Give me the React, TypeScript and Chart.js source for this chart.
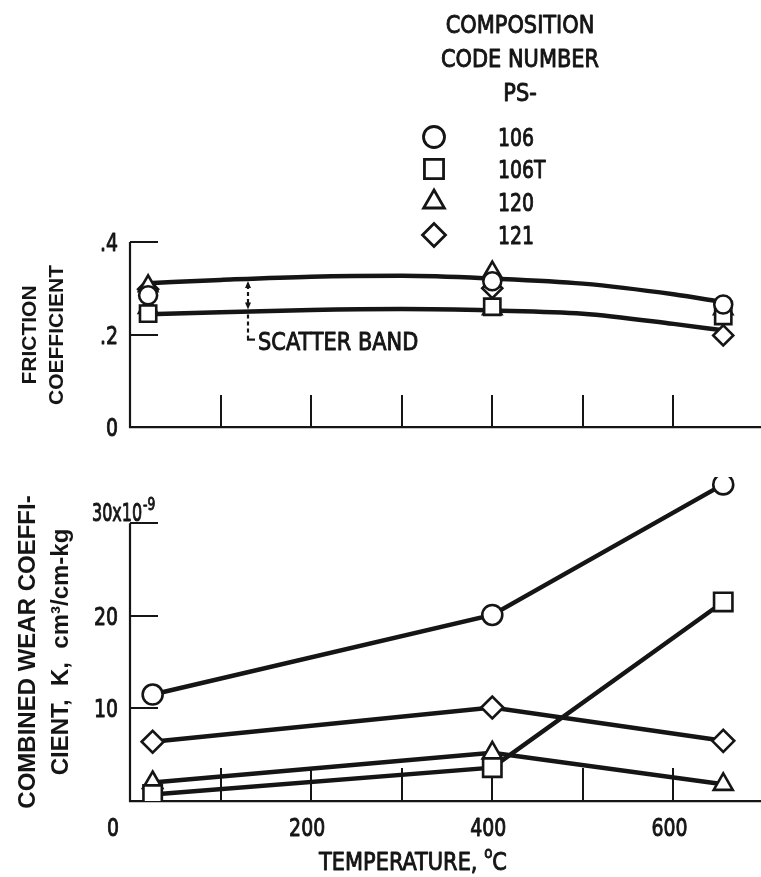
import React, { useEffect, useRef } from 'react';
import { Chart, registerables } from 'chart.js';
import { drawPoint } from 'chart.js/helpers';

Chart.register(...registerables);

const COND = "'DejaVu Sans Condensed', 'Liberation Sans Narrow', sans-serif";
const SANS = "'Liberation Sans', Arial, sans-serif";
const INK = '#151515';
const TXT_SX = 0.93;
const NUM_SX = 0.84;

// ---------- shared axis data ----------
const tempMin = 0;
const tempMax = 700;
const tempTickValues = [0, 100, 200, 300, 400, 500, 600, 700];
const tempLabelValues = [0, 200, 400, 600];

// ---------- legend ----------
const legendTitle = ['COMPOSITION', 'CODE NUMBER', 'PS-'];
const seriesLabels = ['106', '106T', '120', '121'];
const seriesStyles = ['circle', 'rect', 'triangle', 'rectRot'];

// ---------- friction coefficient (top) ----------
const frictionTickValues = [0, 0.2, 0.4];
const frictionTickLabels = ['0', '.2', '.4'];
const fr106X = [20, 400, 655];
const fr106Y = [0.285, 0.315, 0.265];
const fr106TX = [20, 400, 655];
const fr106TY = [0.245, 0.26, 0.24];
const fr120X = [20, 20, 400, 400, 655];
const fr120Y = [0.305, 0.258, 0.335, 0.255, 0.255];
const fr121X = [20, 400, 655];
const fr121Y = [0.298, 0.3, 0.198];
const bandX = [20, 100, 200, 300, 400, 500, 600, 655];
const bandUpper = [0.311, 0.318, 0.325, 0.327, 0.321, 0.31, 0.287, 0.27];
const bandLower = [0.244, 0.248, 0.253, 0.255, 0.252, 0.245, 0.223, 0.209];
const scatterBandTemp = 130;
const scatterBandText = 'SCATTER BAND';

// ---------- wear coefficient (bottom) ----------
const wearTemps = [25, 400, 655];
const wear106 = [11.5, 20.1, 34.2];
const wear106T = [0.7, 3.6, 21.5];
const wear120 = [2.0, 5.2, 1.8];
const wear121 = [6.4, 10.1, 6.5];
const wearTickValues = [0, 10, 20, 30];
const wearTickLabels = ['', '10', '20', '30x10'];
const wearExponent = '-9';
const wearAxisMax = 35;

const frictionTitle = ['FRICTION', 'COEFFICIENT'];
const wearTitle = ['COMBINED WEAR COEFFI-', 'CIENT,  K,  cm\u00B3/cm-kg'];
const tempTitle = 'TEMPERATURE, ';
const tempUnitSup = 'o';
const tempUnit = 'C';

function interp(xs: number[], ys: number[], x: number) {
  for (let i = 0; i < xs.length - 1; i++) {
    if (x >= xs[i] && x <= xs[i + 1]) {
      const t = (x - xs[i]) / (xs[i + 1] - xs[i]);
      return ys[i] + t * (ys[i + 1] - ys[i]);
    }
  }
  return ys[ys.length - 1];
}

function line(ctx: CanvasRenderingContext2D, x1: number, y1: number, x2: number, y2: number) {
  ctx.beginPath();
  ctx.moveTo(x1, y1);
  ctx.lineTo(x2, y2);
  ctx.stroke();
}

// draws condensed text (slightly emboldened); returns drawn width
function text(
  ctx: CanvasRenderingContext2D,
  s: string,
  x: number,
  y: number,
  size: number,
  align: CanvasTextAlign = 'left',
  sx: number = TXT_SX,
) {
  ctx.save();
  ctx.fillStyle = INK;
  ctx.strokeStyle = INK;
  ctx.lineWidth = 0.9;
  ctx.lineJoin = 'round';
  ctx.font = `${size}px ${COND}`;
  ctx.textAlign = align;
  ctx.textBaseline = 'alphabetic';
  ctx.translate(x, y);
  ctx.scale(sx, 1);
  ctx.fillText(s, 0, 0);
  ctx.strokeText(s, 0, 0);
  const w = ctx.measureText(s).width * sx;
  ctx.restore();
  return w;
}

function measure(ctx: CanvasRenderingContext2D, s: string, size: number, sx: number) {
  ctx.save();
  ctx.font = `${size}px ${COND}`;
  const w = ctx.measureText(s).width * sx;
  ctx.restore();
  return w;
}

function drawAxesAndTicks(chart: any, yTop: number, xTickLen: number, yTickLen: number) {
  const { ctx, chartArea } = chart;
  const xs = chart.scales.x;
  const ys = chart.scales.y;
  ctx.save();
  ctx.strokeStyle = INK;
  ctx.lineWidth = 2.2;
  ctx.lineCap = 'butt';
  const left = Math.round(chartArea.left);
  line(ctx, left, ys.getPixelForValue(0) + 1, left, ys.getPixelForValue(yTop));
  ctx.lineWidth = 2;
  xs.ticks.forEach((t: any) => {
    if (t.value <= tempMin || t.value >= tempMax) return;
    const px = Math.round(xs.getPixelForValue(t.value));
    line(ctx, px, chartArea.bottom, px, chartArea.bottom - xTickLen);
  });
  ys.ticks.forEach((t: any) => {
    if (t.value <= 0) return;
    const py = Math.round(ys.getPixelForValue(t.value));
    line(ctx, left, py, left + yTickLen, py);
  });
  ctx.restore();
}

function drawYLabels(chart: any, values: number[], labels: string[]) {
  const { ctx, chartArea } = chart;
  const ys = chart.scales.y;
  values.forEach((v, i) => {
    const s = labels[i];
    if (!s) return;
    text(ctx, s, chartArea.left - 12, ys.getPixelForValue(v) + 9, 25, 'right', NUM_SX);
  });
}

function drawXLabels(chart: any) {
  const { ctx, chartArea } = chart;
  const xs = chart.scales.x;
  tempLabelValues.forEach((v) => {
    const px = xs.getPixelForValue(v);
    const by = chartArea.bottom + 35;
    if (v === tempMin) text(ctx, String(v), px - 11, by, 25, 'right', NUM_SX);
    else text(ctx, String(v), px - 4, by, 25, 'center', NUM_SX);
  });
}

function drawRotatedLines(ctx: CanvasRenderingContext2D, lines: string[], xs: number[], cy: number, size: number) {
  ctx.save();
  ctx.fillStyle = INK;
  ctx.font = `bold ${size}px ${SANS}`;
  ctx.textAlign = 'center';
  ctx.textBaseline = 'middle';
  lines.forEach((txt, i) => {
    ctx.save();
    ctx.translate(xs[i], cy);
    ctx.rotate(-Math.PI / 2);
    ctx.fillText(txt, 0, 0);
    ctx.restore();
  });
  ctx.restore();
}

const topDecor = {
  id: 'topDecor',
  beforeDatasetsDraw(chart: any) {
    drawAxesAndTicks(chart, 0.4, 32, 28);
  },
  afterDraw(chart: any) {
    const { ctx } = chart;
    const xs = chart.scales.x;
    const ys = chart.scales.y;
    drawYLabels(chart, frictionTickValues, frictionTickLabels);

    // legend
    const titleBase = [33, 67, 101];
    legendTitle.forEach((t, i) => text(ctx, t, 520, titleBase[i], 25, 'center'));
    const rowY = [137, 169, 202, 235];
    const legRadius = [10.5, 13.5, 12, 11.5];
    seriesLabels.forEach((lab, i) => {
      ctx.save();
      ctx.fillStyle = '#fff';
      ctx.strokeStyle = INK;
      ctx.lineWidth = 2.8;
      drawPoint(ctx, { pointStyle: seriesStyles[i], radius: legRadius[i], rotation: 0, borderWidth: 2.8 } as any, 434, rowY[i]);
      ctx.restore();
      text(ctx, lab, 498, rowY[i] + 9, 25, 'left', NUM_SX);
    });

    // y title
    drawRotatedLines(ctx, frictionTitle, [30, 57], 335, 21);

    // scatter band annotation
    const px = Math.round(xs.getPixelForValue(scatterBandTemp));
    const yU = ys.getPixelForValue(interp(bandX, bandUpper, scatterBandTemp)) + 2;
    const yL = ys.getPixelForValue(interp(bandX, bandLower, scatterBandTemp)) - 2;
    ctx.save();
    ctx.strokeStyle = INK;
    ctx.fillStyle = INK;
    ctx.lineWidth = 2.2;
    ctx.setLineDash([4, 3]);
    line(ctx, px, yU + 4, px, yL - 4);
    line(ctx, px, yL + 5, px, yL + 24);
    ctx.setLineDash([]);
    line(ctx, px, yL + 26, px, yL + 30);
    line(ctx, px - 1, yL + 30, px + 7, yL + 30);
    ctx.beginPath();
    ctx.moveTo(px, yU); ctx.lineTo(px - 3, yU + 7); ctx.lineTo(px + 3, yU + 7); ctx.closePath(); ctx.fill();
    ctx.beginPath();
    ctx.moveTo(px, yL); ctx.lineTo(px - 3, yL - 7); ctx.lineTo(px + 3, yL - 7); ctx.closePath(); ctx.fill();
    ctx.restore();
    text(ctx, scatterBandText, px + 10, yL + 40, 25, 'left');
  },
};

const bottomDecor = {
  id: 'bottomDecor',
  beforeDatasetsDraw(chart: any) {
    drawAxesAndTicks(chart, wearTickValues[wearTickValues.length - 1], 33, 28);
  },
  afterDraw(chart: any) {
    const { ctx, chartArea } = chart;
    const ys = chart.scales.y;
    drawYLabels(chart, wearTickValues.slice(0, 3), wearTickLabels.slice(0, 3));
    drawXLabels(chart);

    // top y label with exponent
    const y30 = ys.getPixelForValue(wearTickValues[3]);
    const w = text(ctx, wearTickLabels[3], 92, y30 - 2, 24, 'left', 0.74);
    text(ctx, wearExponent, 92 + w + 1, y30 - 13, 17, 'left', 0.8);

    // x title
    const w1 = measure(ctx, tempTitle, 25, TXT_SX);
    const w2 = measure(ctx, tempUnitSup, 16, TXT_SX);
    const w3 = measure(ctx, tempUnit, 25, TXT_SX);
    let x0 = 413 - (w1 + w2 + w3) / 2;
    const by = chartArea.bottom + 69;
    text(ctx, tempTitle, x0, by, 25);
    x0 += w1;
    text(ctx, tempUnitSup, x0, by - 12, 16);
    x0 += w2;
    text(ctx, tempUnit, x0, by, 25);

    drawRotatedLines(ctx, wearTitle, [28, 61], 192, 24);
  },
};

function markerDataset(label: string, style: string, r: number, xsArr: number[], ysArr: number[], showLine: boolean) {
  return {
    label,
    data: xsArr.map((x, i) => ({ x, y: ysArr[i] })),
    showLine,
    borderColor: INK,
    borderWidth: 4.5,
    pointStyle: style,
    pointRadius: r,
    pointHoverRadius: r,
    pointBorderWidth: 2.6,
    pointBackgroundColor: '#fff',
    pointBorderColor: INK,
  };
}

function xScale(height: number) {
  return {
    type: 'linear' as const,
    min: tempMin,
    max: tempMax,
    afterFit: (s: any) => { s.height = height; },
    afterBuildTicks: (s: any) => { s.ticks = tempTickValues.map((v) => ({ value: v })); },
    border: { display: true, color: INK, width: 2.2 },
    grid: { display: true, drawOnChartArea: false, drawTicks: false },
    ticks: { display: false },
  };
}

function yScale(max: number, values: number[]) {
  return {
    type: 'linear' as const,
    min: 0,
    max,
    afterFit: (s: any) => { s.width = 130; },
    afterBuildTicks: (s: any) => { s.ticks = values.map((v) => ({ value: v })); },
    border: { display: false },
    grid: { display: false },
    ticks: { display: false },
  };
}

function topConfig(): any {
  return {
    type: 'scatter',
    data: {
      datasets: [
        markerDataset(seriesLabels[0], seriesStyles[0], 9, fr106X, fr106Y, false),
        markerDataset(seriesLabels[1], seriesStyles[1], 11.5, fr106TX, fr106TY, false),
        markerDataset(seriesLabels[2], seriesStyles[2], 10.5, fr120X, fr120Y, false),
        markerDataset(seriesLabels[3], seriesStyles[3], 10, fr121X, fr121Y, false),
        {
          label: 'upper',
          data: bandX.map((x, i) => ({ x, y: bandUpper[i] })),
          showLine: true,
          borderColor: INK,
          borderWidth: 4.5,
          pointRadius: 0,
          cubicInterpolationMode: 'monotone',
        },
        {
          label: 'lower',
          data: bandX.map((x, i) => ({ x, y: bandLower[i] })),
          showLine: true,
          borderColor: INK,
          borderWidth: 4.5,
          pointRadius: 0,
          cubicInterpolationMode: 'monotone',
        },
      ],
    },
    options: {
      responsive: false,
      animation: false,
      events: [],
      layout: { autoPadding: false, padding: { top: 242, left: 0, right: 0, bottom: 0 } },
      plugins: { legend: { display: false }, tooltip: { enabled: false }, title: { display: false } },
      scales: {
        x: xScale(33),
        y: yScale(0.4, frictionTickValues),
      },
    },
    plugins: [topDecor],
  };
}

function bottomConfig(): any {
  return {
    type: 'scatter',
    data: {
      datasets: [
        markerDataset(seriesLabels[0], seriesStyles[0], 10, wearTemps, wear106, true),
        markerDataset(seriesLabels[1], seriesStyles[1], 13, wearTemps, wear106T, true),
        markerDataset(seriesLabels[2], seriesStyles[2], 11, wearTemps, wear120, true),
        markerDataset(seriesLabels[3], seriesStyles[3], 11, wearTemps, wear121, true),
      ],
    },
    options: {
      responsive: false,
      animation: false,
      events: [],
      layout: { autoPadding: false, padding: { top: 17, left: 0, right: 0, bottom: 0 } },
      plugins: { legend: { display: false }, tooltip: { enabled: false }, title: { display: false } },
      scales: {
        x: xScale(76),
        y: yScale(wearAxisMax, wearTickValues),
      },
    },
    plugins: [bottomDecor],
  };
}

export default function App() {
  const topRef = useRef<HTMLCanvasElement>(null);
  const botRef = useRef<HTMLCanvasElement>(null);
  useEffect(() => {
    const c1 = new Chart(topRef.current as HTMLCanvasElement, topConfig());
    const c2 = new Chart(botRef.current as HTMLCanvasElement, bottomConfig());
    return () => {
      c1.destroy();
      c2.destroy();
    };
  }, []);
  return (
    <div style={{ position: 'absolute', left: 0, top: 0, width: 761, height: 877, overflow: 'hidden', background: '#fff' }}>
      <canvas ref={topRef} width={764} height={460} style={{ position: 'absolute', left: 0, top: 0, width: 764, height: 460 }} />
      <canvas ref={botRef} width={764} height={417} style={{ position: 'absolute', left: 0, top: 460, width: 764, height: 417 }} />
    </div>
  );
}
